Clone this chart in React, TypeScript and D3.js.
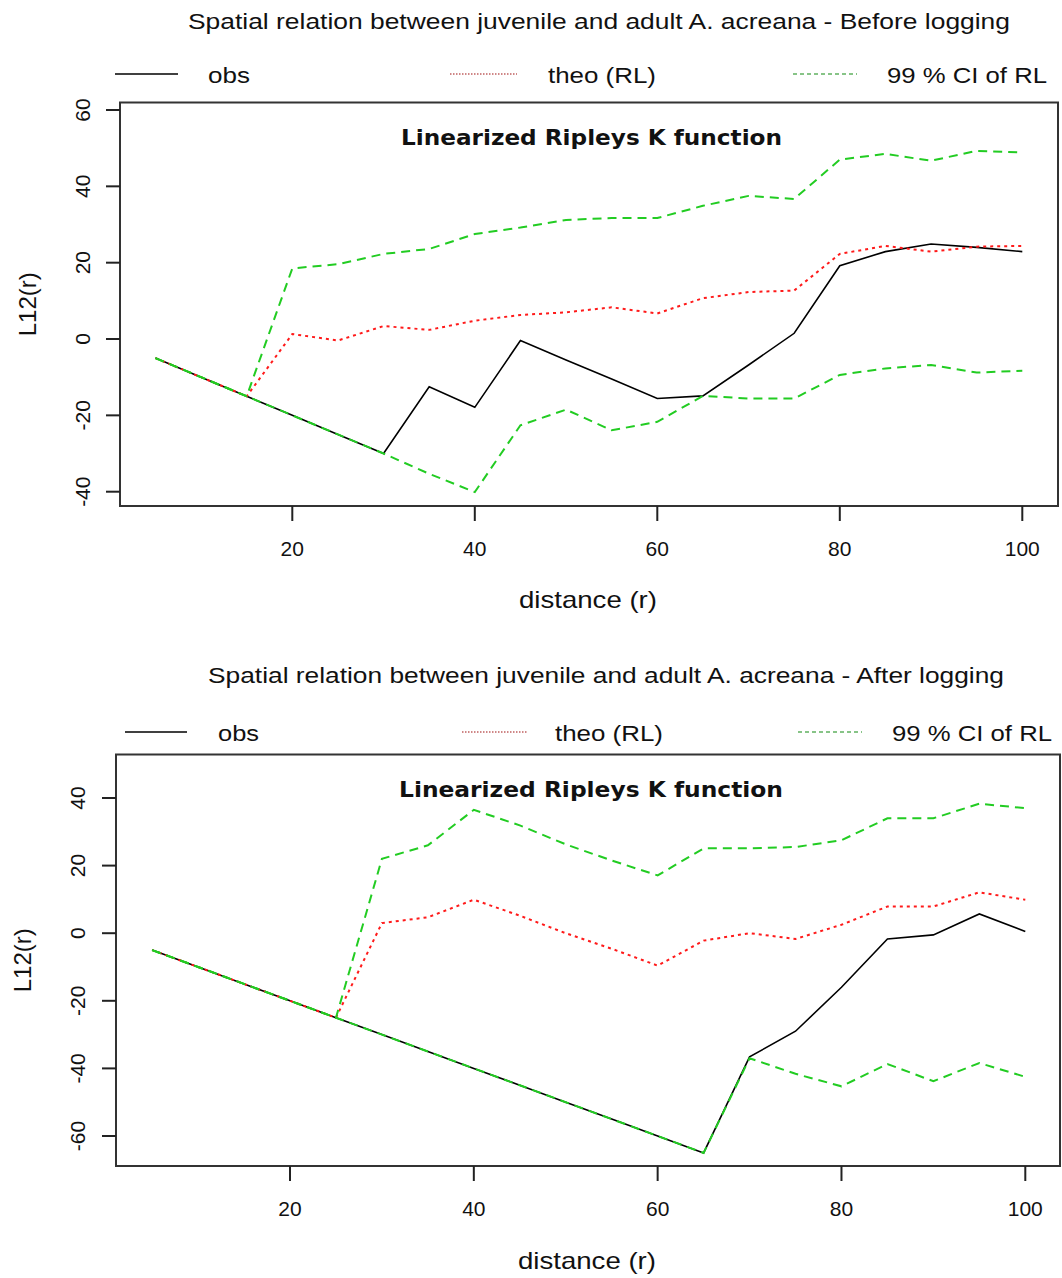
import React from "react";
import * as d3 from "d3";

const distance = [5, 10, 15, 20, 25, 30, 35, 40, 45, 50, 55, 60, 65, 70, 75, 80, 85, 90, 95, 100];

const beforeObs = [-5, -10, -15, -20, -25, -30, -12.5, -17.9, -0.4, -5.5, -10.5, -15.6, -14.9, -6.8, 1.5, 19.2, 22.9, 24.9, 24.0, 22.9];
const beforeTheo = [-5, -10, -15, 1.3, -0.4, 3.4, 2.4, 4.8, 6.3, 7.0, 8.3, 6.7, 10.7, 12.3, 12.7, 22.3, 24.4, 22.9, 24.2, 24.4];
const beforeHi = [-5, -10, -15, 18.5, 19.6, 22.3, 23.6, 27.5, 29.2, 31.2, 31.7, 31.7, 34.9, 37.5, 36.7, 47.0, 48.5, 46.7, 49.3, 48.9];
const beforeLo = [-5, -10, -15, -20, -25, -30, -35.3, -40.1, -22.6, -18.5, -23.9, -21.7, -14.9, -15.6, -15.6, -9.4, -7.7, -6.8, -8.8, -8.3];

const afterObs = [-5, -10, -15, -20, -25, -30, -35, -40, -45, -50, -55, -60, -65, -36.6, -29.0, -16.0, -1.7, -0.5, 5.7, 0.5];
const afterTheo = [-5, -10, -15, -20, -25, 3.0, 4.7, 9.9, 5.2, 0.0, -4.6, -9.6, -2.2, 0.0, -1.7, 2.5, 7.9, 7.9, 12.1, 9.9];
const afterHi = [-5, -10, -15, -20, -25, 22.0, 26.0, 36.5, 31.9, 26.3, 21.5, 17.1, 25.1, 25.1, 25.5, 27.5, 34.0, 34.0, 38.3, 37.0];
const afterLo = [-5, -10, -15, -20, -25, -30, -35, -40, -45, -50, -55, -60, -65, -37.0, -41.6, -45.3, -38.7, -43.8, -38.4, -42.5];

const xTicks = [20, 40, 60, 80, 100];
const beforeYTicks = [-40, -20, 0, 20, 40, 60];
const afterYTicks = [-60, -40, -20, 0, 20, 40];

const legendLabels = ["obs", "theo (RL)", "99 % CI of RL"];
const beforeTitle = "Spatial relation between juvenile and adult A. acreana - Before logging";
const afterTitle = "Spatial relation between juvenile and adult A. acreana - After logging";
const subTitle = "Linearized Ripleys K function";
const xLabel = "distance (r)";
const yLabel = "L12(r)";

const FONT = "'Liberation Sans', Arial, sans-serif";
const TXT = "#111";

type PanelProps = {
  box: { x0: number; x1: number; y0: number; y1: number };
  xRange: [number, number];
  yDomain: [number, number];
  yRange: [number, number];
  yTicks: number[];
  obs: number[];
  theo: number[];
  hi: number[];
  lo: number[];
  title: string;
  titleX: [number, number];
  legend: { lines: [number, number][]; texts: [number, number][] };
  subX: [number, number];
  layout: {
    titleY: number;
    legendY: number;
    legendLineY: number;
    subY: number;
    yTickLabelX: number;
    yLabelX: number;
    xTickLabelY: number;
    xLabelY: number;
  };
};

function Panel(p: PanelProps) {
  const x = d3.scaleLinear().domain([20, 100]).range(p.xRange);
  const y = d3.scaleLinear().domain(p.yDomain).range(p.yRange);
  const line = d3
    .line<number>()
    .x((_, i) => x(distance[i]))
    .y((d) => y(d));
  const { box, layout } = p;
  const yMid = (box.y0 + box.y1) / 2;
  const xMid = (box.x0 + box.x1) / 2;
  const legendStyles = [
    { stroke: "#000", dash: undefined as string | undefined, w: 1.5 },
    { stroke: "#a01010", dash: "1.5,1.5", w: 1.2 },
    { stroke: "#108a10", dash: "4,3", w: 1.2 },
  ];
  return (
    <g>
      <text
        x={(p.titleX[0] + p.titleX[1]) / 2}
        y={layout.titleY}
        textAnchor="middle"
        fontFamily={FONT}
        fontSize={22.5}
        fill={TXT}
        textLength={p.titleX[1] - p.titleX[0]}
        lengthAdjust="spacingAndGlyphs"
      >
        {p.title}
      </text>
      {legendLabels.map((lab, i) => (
        <g key={lab}>
          <line
            x1={p.legend.lines[i][0]}
            x2={p.legend.lines[i][1]}
            y1={layout.legendLineY}
            y2={layout.legendLineY}
            stroke={legendStyles[i].stroke}
            strokeWidth={legendStyles[i].w}
            strokeDasharray={legendStyles[i].dash}
          />
          <text
            x={p.legend.texts[i][0]}
            y={layout.legendY}
            fontFamily={FONT}
            fontSize={22.5}
            fill={TXT}
            textLength={p.legend.texts[i][1] - p.legend.texts[i][0]}
            lengthAdjust="spacingAndGlyphs"
          >
            {lab}
          </text>
        </g>
      ))}
      <path d={line(p.obs) || ""} fill="none" stroke="#000" strokeWidth={1.6} />
      <path d={line(p.theo) || ""} fill="none" stroke="#ff1a1a" strokeWidth={2} strokeDasharray="3,4" />
      <path d={line(p.hi) || ""} fill="none" stroke="#22cc22" strokeWidth={2} strokeDasharray="9,6" />
      <path d={line(p.lo) || ""} fill="none" stroke="#22cc22" strokeWidth={2} strokeDasharray="9,6" />
      <rect
        x={box.x0}
        y={box.y0}
        width={box.x1 - box.x0}
        height={box.y1 - box.y0}
        fill="none"
        stroke="#333"
        strokeWidth={2}
      />
      <text
        x={(p.subX[0] + p.subX[1]) / 2}
        y={layout.subY}
        textAnchor="middle"
        fontFamily="'DejaVu Sans', Verdana, sans-serif"
        fontWeight="bold"
        fontSize={21}
        fill={TXT}
        textLength={p.subX[1] - p.subX[0]}
        lengthAdjust="spacingAndGlyphs"
      >
        {subTitle}
      </text>
      {p.yTicks.map((t) => (
        <g key={"y" + t}>
          <line x1={box.x0 - 14} x2={box.x0} y1={y(t)} y2={y(t)} stroke="#222" strokeWidth={2} />
          <text
            transform={`translate(${layout.yTickLabelX},${y(t)}) rotate(-90)`}
            textAnchor="middle"
            fontFamily={FONT}
            fontSize={21}
            fill={TXT}
          >
            {t}
          </text>
        </g>
      ))}
      <text
        transform={`translate(${layout.yLabelX},${yMid}) rotate(-90)`}
        textAnchor="middle"
        fontFamily={FONT}
        fontSize={24}
        fill={TXT}
      >
        {yLabel}
      </text>
      {xTicks.map((t) => (
        <g key={"x" + t}>
          <line x1={x(t)} x2={x(t)} y1={box.y1} y2={box.y1 + 15} stroke="#222" strokeWidth={2} />
          <text x={x(t)} y={layout.xTickLabelY} textAnchor="middle" fontFamily={FONT} fontSize={21} fill={TXT}>
            {t}
          </text>
        </g>
      ))}
      <text
        x={xMid - 1}
        y={layout.xLabelY}
        textAnchor="middle"
        fontFamily={FONT}
        fontSize={24}
        fill={TXT}
        textLength={138}
        lengthAdjust="spacingAndGlyphs"
      >
        {xLabel}
      </text>
    </g>
  );
}

export default function App() {
  return (
    <svg
      width={1062}
      height={1278}
      viewBox="0 0 1062 1278"
      style={{ position: "absolute", left: 0, top: 0, background: "#fff" }}
    >
      <rect x={0} y={0} width={1062} height={1278} fill="#fff" />
      <Panel
        box={{ x0: 120, x1: 1058, y0: 102.5, y1: 506 }}
        xRange={[292.3, 1022.3]}
        yDomain={[-40, 60]}
        yRange={[491.7, 110]}
        yTicks={beforeYTicks}
        obs={beforeObs}
        theo={beforeTheo}
        hi={beforeHi}
        lo={beforeLo}
        title={beforeTitle}
        titleX={[188, 1010]}
        legend={{
          lines: [
            [115, 178],
            [450, 517],
            [793, 857],
          ],
          texts: [
            [208, 250],
            [548, 656],
            [887, 1047],
          ],
        }}
        subX={[401, 782]}
        layout={{
          titleY: 29,
          legendY: 83,
          legendLineY: 74,
          subY: 145,
          yTickLabelX: 90,
          yLabelX: 36,
          xTickLabelY: 556,
          xLabelY: 608,
        }}
      />
      <Panel
        box={{ x0: 116, x1: 1060, y0: 754.5, y1: 1166 }}
        xRange={[290, 1025.3]}
        yDomain={[-60, 40]}
        yRange={[1136, 798]}
        yTicks={afterYTicks}
        obs={afterObs}
        theo={afterTheo}
        hi={afterHi}
        lo={afterLo}
        title={afterTitle}
        titleX={[208, 1004]}
        legend={{
          lines: [
            [125, 187],
            [462, 527],
            [798, 862],
          ],
          texts: [
            [218, 259],
            [555, 663],
            [892, 1052],
          ],
        }}
        subX={[399, 783]}
        layout={{
          titleY: 683,
          legendY: 741,
          legendLineY: 732,
          subY: 797,
          yTickLabelX: 85,
          yLabelX: 31,
          xTickLabelY: 1216,
          xLabelY: 1269,
        }}
      />
    </svg>
  );
}
